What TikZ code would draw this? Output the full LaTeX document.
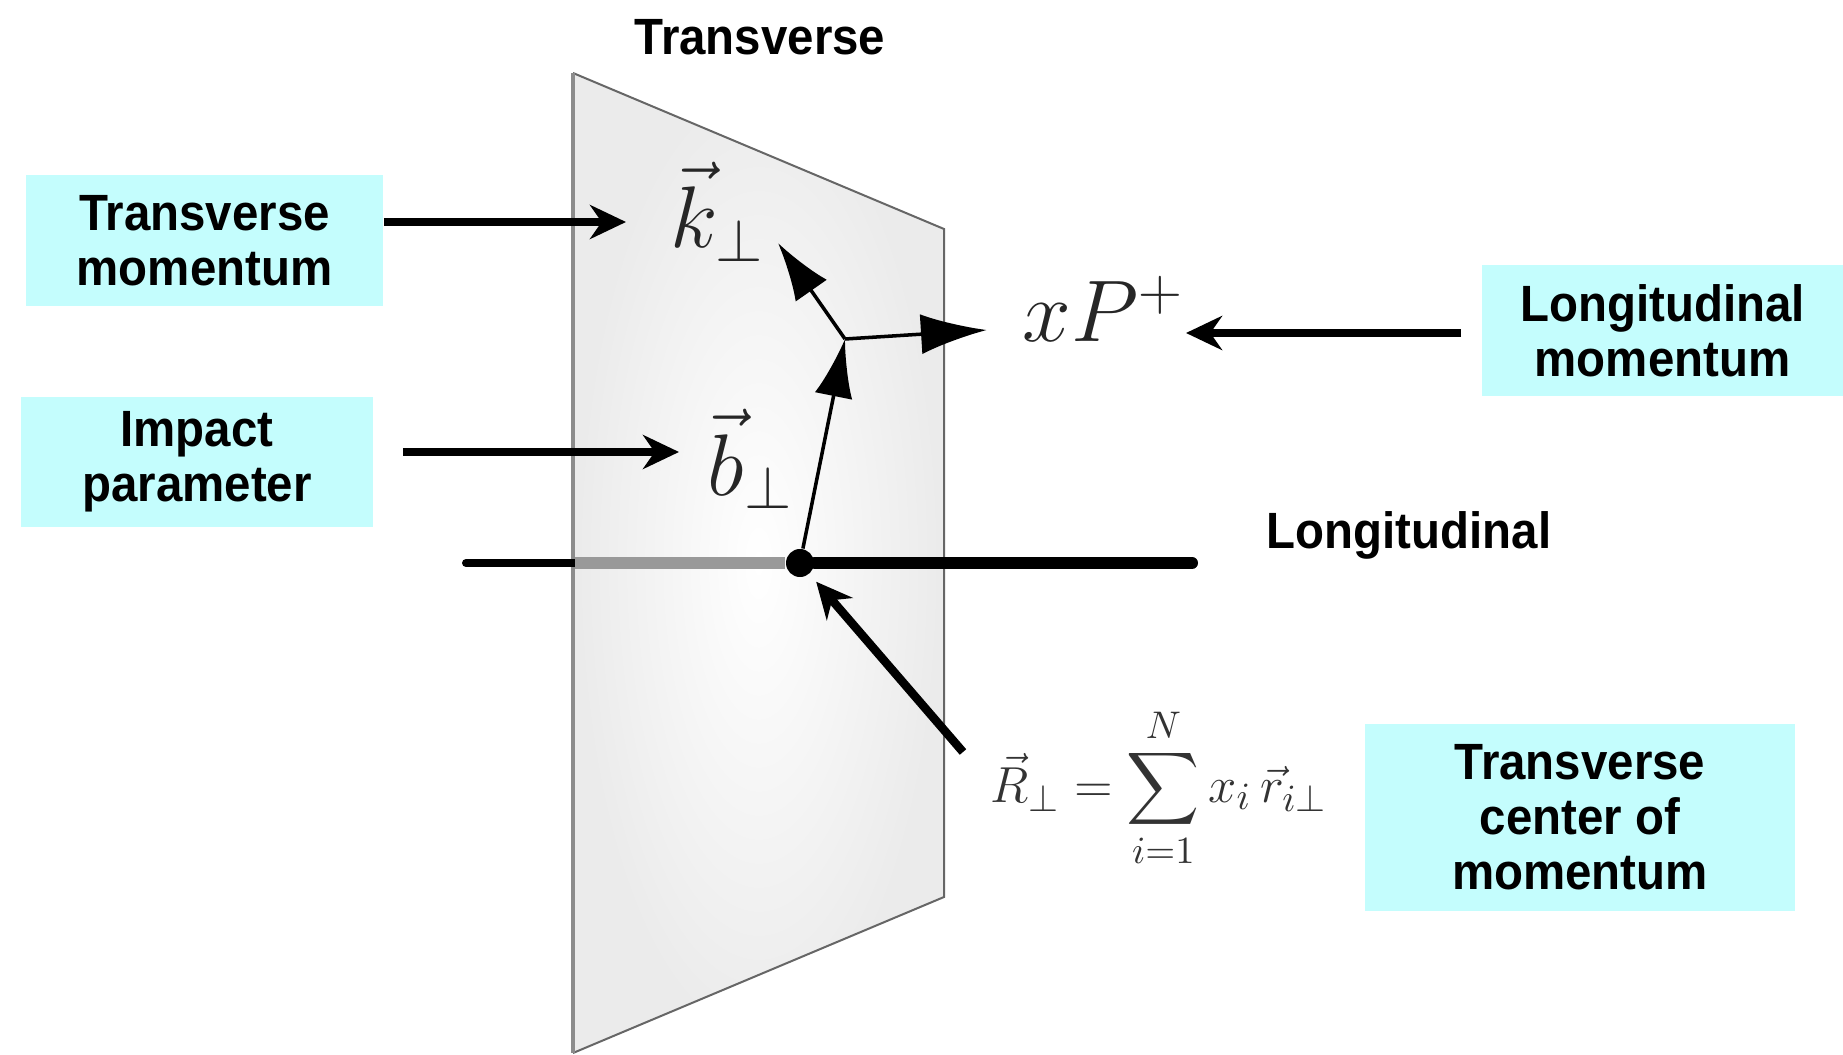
\documentclass[tikz,border=0pt]{standalone}
\usepackage{amsmath}
\usepackage[no-math]{fontspec}
\newfontfamily\labelfont[FakeStretch=0.93]{Liberation Sans}
\usetikzlibrary{arrows.meta}
\definecolor{boxcyan}{RGB}{196,253,253}

\begin{document}
\begin{tikzpicture}[
  x=0.01cm, y=-0.01cm,
  lbl/.style={font=\labelfont\bfseries\fontsize{14.5}{15.6}\selectfont, align=center},
  infobox/.style={lbl, fill=boxcyan, inner sep=0pt, minimum height=1.3cm},
  callout/.style={-{Stealth[length=0.36cm, width=0.34cm]}, line width=0.085cm},
  vec/.style={line width=1pt, -{Latex[length=0.58cm, width=0.38cm]}},
  sym/.style={font=\fontsize{24}{28}\selectfont, inner sep=0pt, text=black!85},
  dot/.style={circle, fill, inner sep=0pt, minimum size=0.28cm},
  planeedge/.style={draw=black!60, line width=0.02cm}
]
\useasboundingbox (0,0) rectangle (1843,1055);

\coordinate (pTL) at (573,73);
\coordinate (pTR) at (944,229);
\coordinate (pBR) at (944,897);
\coordinate (pBL) at (573,1053);

\begin{scope}
  \clip (pTL) -- (pTR) -- (pBR) -- (pBL) -- cycle;
  \shade[inner color=white, outer color=black!8] (pTL) rectangle (pBR |- pBL);
\end{scope}
\draw[planeedge] (pTL) -- (pTR) -- (pBR) -- (pBL);
\draw[planeedge, draw=black!45, line width=0.035cm] (pTL) -- (pBL);

\coordinate (axL) at (466,563);
\coordinate (axP) at (575,563);
\coordinate (axR) at (1192,563);
\node[dot] (orig) at (800,563) {};
\draw[line width=0.08cm, line cap=round] (axL) -- (axP);
\draw[line width=0.11cm, black!40] (axP) -- (orig);
\draw[line width=0.12cm, line cap=round] (orig) -- (axR);

\coordinate (vtx) at (845,339);
\coordinate (ktip) at (778,243);
\coordinate (ptip) at (987,330);
\draw[vec] (orig) -- (vtx);
\draw[vec] (vtx) -- (ktip);
\draw[vec, -{Latex[length=0.66cm, width=0.4cm]}] (vtx) -- (ptip);

\node[sym, anchor=base west] (kperp) at (670,248) {$\vec{k}_\perp$};
\node[sym, anchor=base west] (bperp) at (707,495) {$\vec{b}_\perp$};
\node[sym, anchor=base west] (xplus) at (1022,342) {$xP^+$};
\node[anchor=base west, inner sep=0pt, font=\fontsize{15.3}{18}\selectfont, text=black!80] (rsum)
  at (990,802) {$\displaystyle \vec{R}_\perp = \sum_{i=1}^{N} x_i\,\vec{r}_{i\perp}$};

\node[lbl, anchor=base] (ttrans) at (760,55) {Transverse};
\node[lbl, anchor=base] (tlong) at (1409,548) {Longitudinal};

\node[infobox, minimum width=3.57cm] (tmom) at (204.6,240.5) {Transverse\\momentum};
\node[infobox, minimum width=3.52cm] (impact) at (197,462) {Impact\\parameter};
\node[infobox, minimum width=3.61cm] (lmom) at (1662.5,330.5) {Longitudinal\\momentum};
\node[infobox, minimum width=4.3cm, minimum height=1.87cm] (tcom) at (1580,817.5) {Transverse\\center of\\momentum};

\coordinate (kto) at (626,222);
\coordinate (bto) at (679,452);
\coordinate (pto) at (1186,333);
\coordinate (rfrom) at (963,752);
\draw[callout] (tmom.east |- kto) -- (kto);
\draw[callout, shorten <=0.29cm] (impact.east |- bto) -- (bto);
\draw[callout, shorten <=0.2cm] (lmom.west |- pto) -- (pto);
\draw[callout, shorten >=0.1cm] (rfrom) -- (orig);
\end{tikzpicture}
\end{document}
